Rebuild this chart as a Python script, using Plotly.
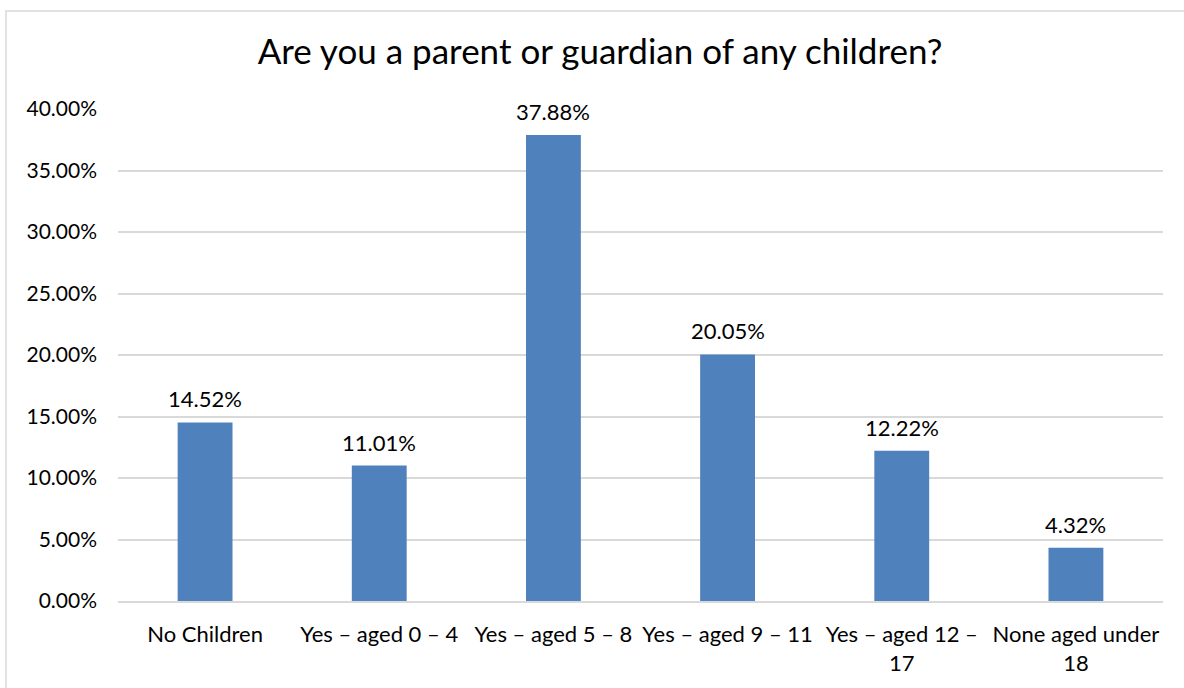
import plotly.graph_objects as go

categories = [
    "No Children",
    "Yes – aged 0 – 4",
    "Yes – aged 5 – 8",
    "Yes – aged 9 – 11",
    "Yes – aged 12 –<br>17",
    "None aged under<br>18",
]
shares = [14.52, 11.01, 37.88, 20.05, 12.22, 4.32]
y_ticks = [0, 5, 10, 15, 20, 25, 30, 35, 40]

FONT = "Lato, 'Open Sans', sans-serif"

fig = go.Figure(
    go.Bar(
        x=categories,
        y=shares,
        marker=dict(color="#4F81BD", line=dict(width=0)),
        cliponaxis=False,
    )
)

# value labels above each bar
for cat, val in zip(categories, shares):
    fig.add_annotation(
        x=cat,
        y=val,
        text=f"{val:.2f}%",
        showarrow=False,
        yanchor="bottom",
        yshift=8,
        font=dict(size=22, family=FONT, color="#000000"),
    )

fig.update_layout(
    width=1184,
    height=688,
    margin=dict(l=118, r=21, t=109, b=81),
    paper_bgcolor="white",
    plot_bgcolor="white",
    bargap=0.685,
    showlegend=False,
    font=dict(family=FONT, color="#000000"),
    title=dict(
        text="Are you a parent or guardian of any children?",
        x=600 / 1184,
        xref="container",
        xanchor="center",
        y=1 - 52 / 688,
        yanchor="middle",
        font=dict(size=35, family=FONT, color="#000000"),
    ),
    shapes=[
        dict(
            type="rect",
            xref="paper",
            yref="paper",
            x0=-0.1072,
            x1=1.05,
            y0=-0.25,
            y1=1.1992,
            line=dict(color="#d9d9d9", width=1.5),
            fillcolor="rgba(0,0,0,0)",
            layer="below",
        )
    ],
)

fig.update_yaxes(
    range=[0, 40],
    tickvals=y_ticks,
    ticktext=[f"{v:.2f}%" for v in y_ticks],
    showgrid=True,
    gridcolor="#d9d9d9",
    gridwidth=1.6,
    zeroline=False,
    showline=False,
    ticks="",
    ticklabelstandoff=20,
    tickfont=dict(size=21, family=FONT, color="#000000"),
)

fig.update_xaxes(
    showgrid=False,
    showline=True,
    linecolor="#d9d9d9",
    linewidth=1.6,
    ticks="",
    ticklabelstandoff=13,
    tickfont=dict(size=22, family=FONT, color="#000000"),
)

fig.write_html("out.html")
